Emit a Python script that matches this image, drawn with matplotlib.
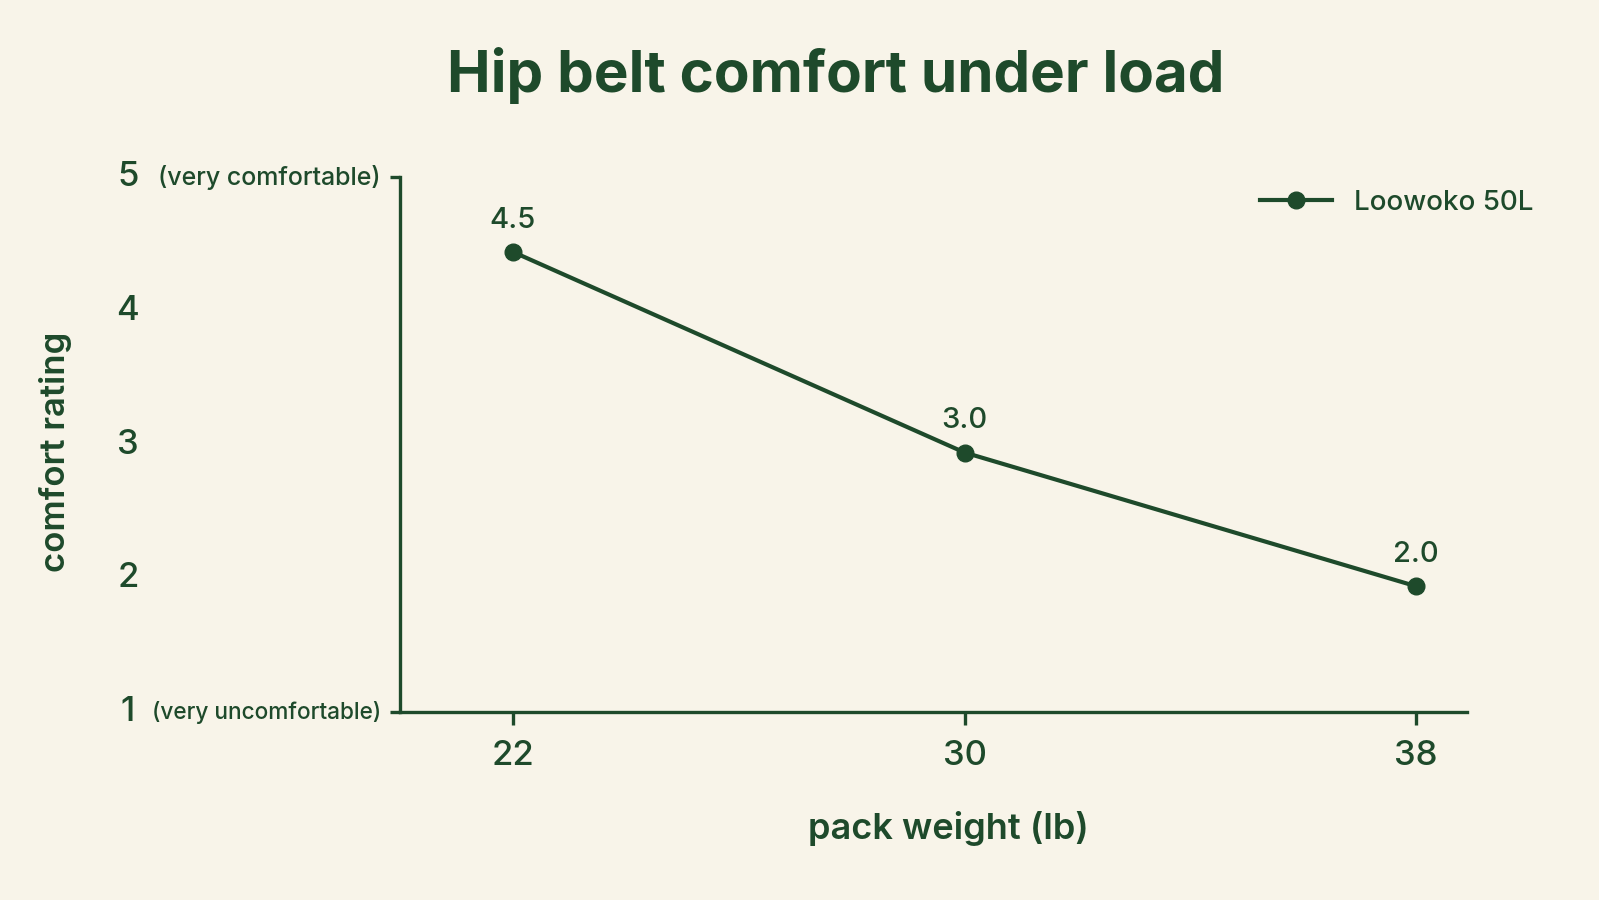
import matplotlib
matplotlib.use("Agg")
import matplotlib.pyplot as plt
from matplotlib.lines import Line2D

# data
weights = [22, 30, 38]
comfort = [4.5, 3.0, 2.0]
series_name = "Loowoko 50L"
y_ticks = [1, 2, 3, 4, 5]
y_notes = {1: "(very uncomfortable)", 5: "(very comfortable)"}
note_sizes = {1: 16.3, 5: 18}

green = "#1e4a2b"
bg = "#f8f4e9"
plt.rcParams['font.family'] = ['Inter', 'DejaVu Sans']

W, H = 1599, 900
fig = plt.figure(figsize=(W / 100, H / 100), dpi=100, facecolor=bg)
ax = fig.add_axes([400 / W, 1 - 712 / H, (1467 - 400) / W, (712 - 177) / H])
ax.set_facecolor(bg)

ax.plot(weights, comfort, color=green, lw=3.0, marker="o", ms=12,
        solid_capstyle="round", label=series_name, clip_on=False, zorder=3)
for x, y in zip(weights, comfort):
    ax.annotate(f"{y:.1f}", (x, y), xytext=(0, 13), textcoords="offset points",
                ha="center", va="bottom", fontsize=21, color=green,
                fontweight="medium")

ax.set_xlim(20, 38.9)
ax.set_ylim(1.06, 5.06)

for s in ["top", "right"]:
    ax.spines[s].set_visible(False)
for s in ["left", "bottom"]:
    ax.spines[s].set_color(green)
    ax.spines[s].set_linewidth(2.4)

ax.set_xticks(weights)
ax.set_xticklabels([str(w) for w in weights], fontweight="medium")
ax.tick_params(axis="x", length=9, width=2.4, color=green, labelcolor=green,
               labelsize=25, pad=11)

# y labels drawn as text: digits far left, notes next to spine
ax.set_yticks([])
trans = ax.transAxes
ax.plot([-0.009, 0], [1, 1], color=green, lw=2.4, transform=trans,
        clip_on=False, solid_capstyle="butt")
ax.plot([-0.009, 0], [0, 0], color=green, lw=2.4, transform=trans,
        clip_on=False, solid_capstyle="butt")
for i, t in enumerate(y_ticks):
    fy = i / (len(y_ticks) - 1)
    ax.text((128 - 400) / (1467 - 400), fy, str(t), transform=trans,
            ha="center", va="center", fontsize=25, color=green,
            fontweight="medium")
    if t in y_notes:
        ax.text((381 - 400) / (1467 - 400), fy, y_notes[t], transform=trans,
                ha="right", va="center", fontsize=note_sizes[t], color=green,
                fontweight="medium")

ax.set_xlabel("pack weight (lb)", fontsize=26, color=green,
              fontweight="semibold")
ax.xaxis.set_label_coords(0.514, -0.185)
fig.text(56 / W, 1 - 452 / H, "comfort rating", rotation=90, ha="center",
         va="center", fontsize=25, color=green, fontweight="semibold")

fig.text(836 / W, 1 - 75 / H, "Hip belt comfort under load", ha="center",
         va="center", fontsize=42, fontweight="bold", color=green)

handle = Line2D([], [], color=green, lw=3.0, marker="o", ms=12)
leg = ax.legend([handle], [series_name], loc="upper right",
                bbox_to_anchor=(1.086, 1.023), frameon=False, fontsize=20,
                handlelength=2.6, handletextpad=0.8)
for txt in leg.get_texts():
    txt.set_color(green)
    txt.set_fontweight("medium")

fig.savefig("out.png", dpi=100, facecolor=bg)
